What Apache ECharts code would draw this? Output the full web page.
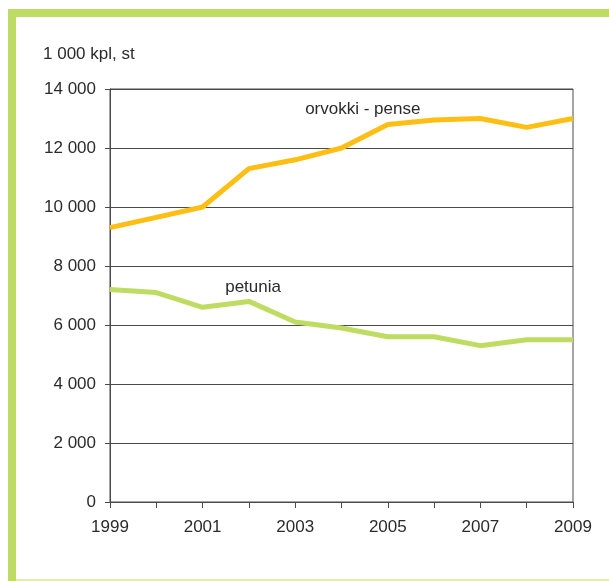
<!DOCTYPE html>
<html>
<head>
<meta charset="utf-8">
<script src="https://cdn.jsdelivr.net/npm/echarts@6/dist/echarts.min.js"></script>
<style>
  html, body { margin: 0; padding: 0; background: #fff; }
  #chart { width: 609px; height: 581px; }
</style>
</head>
<body>
<div id="chart"></div>
<script>
// Annual production, thousand pieces
const years = [1999, 2000, 2001, 2002, 2003, 2004, 2005, 2006, 2007, 2008, 2009];
const orvokki = [9300, 9650, 10000, 11300, 11600, 12000, 12800, 12950, 13000, 12700, 13000];
const petunia = [7200, 7100, 6600, 6800, 6100, 5900, 5600, 5600, 5300, 5500, 5500];
const yTicks = [0, 2000, 4000, 6000, 8000, 10000, 12000, 14000];
const seriesNames = ['orvokki - pense', 'petunia'];
const unitTitle = '1 000 kpl, st';

const FONT = '"Liberation Sans", Arial, sans-serif';
const TEXT = '#2b2b2b';
const GRIDLINE = '#4a4a4a';
const FRAME = '#BEDB64';

function fmtThousands(v) {
  return String(v).replace(/\B(?=(\d{3})+(?!\d))/g, ' ');
}

function pairs(vals) {
  return years.map((y, i) => [y, vals[i]]);
}

const chart = echarts.init(document.getElementById('chart'), null, { renderer: 'canvas' });

chart.setOption({
  animation: false,
  backgroundColor: '#ffffff',
  grid: { left: 110, right: 36, top: 89, bottom: 79, show: true, borderColor: GRIDLINE, borderWidth: 1 },
  xAxis: {
    type: 'value',
    min: years[0],
    max: years[years.length - 1],
    interval: 1,
    axisLine: { show: true, lineStyle: { color: GRIDLINE, width: 1 } },
    axisTick: { show: true, length: 6, lineStyle: { color: GRIDLINE } },
    splitLine: { show: false },
    axisLabel: {
      margin: 17,
      color: TEXT,
      fontFamily: FONT,
      fontSize: 17,
      formatter: v => (v % 2 === 1 ? String(v) : '')
    }
  },
  yAxis: {
    type: 'value',
    min: yTicks[0],
    max: yTicks[yTicks.length - 1],
    interval: 2000,
    axisLine: { show: true, lineStyle: { color: GRIDLINE, width: 1 } },
    axisTick: { show: true, length: 5, lineStyle: { color: GRIDLINE } },
    splitLine: { show: true, lineStyle: { color: GRIDLINE, width: 1 } },
    axisLabel: {
      margin: 14,
      color: TEXT,
      fontFamily: FONT,
      fontSize: 17,
      formatter: v => fmtThousands(v)
    }
  },
  series: [
    {
      name: seriesNames[0],
      type: 'line',
      data: pairs(orvokki),
      symbol: 'none',
      lineStyle: { color: '#FFBE14', width: 5 },
      markPoint: {
        symbol: 'circle',
        symbolSize: 0,
        data: [{ coord: [2004.46, 13320], value: seriesNames[0] }],
        label: { show: true, position: 'inside', formatter: seriesNames[0], color: TEXT, fontFamily: FONT, fontSize: 17 }
      }
    },
    {
      name: seriesNames[1],
      type: 'line',
      data: pairs(petunia),
      symbol: 'none',
      lineStyle: { color: '#BFDC62', width: 5 },
      markPoint: {
        symbol: 'circle',
        symbolSize: 0,
        data: [{ coord: [2002.09, 7270], value: seriesNames[1] }],
        label: { show: true, position: 'inside', formatter: seriesNames[1], color: TEXT, fontFamily: FONT, fontSize: 17 }
      }
    }
  ],
  graphic: [
    // frame: thick top and left bars, thin pale bottom rule
    { type: 'rect', shape: { x: 8, y: 9, width: 601, height: 8 }, style: { fill: FRAME }, silent: true },
    { type: 'rect', shape: { x: 8, y: 9, width: 8, height: 572 }, style: { fill: FRAME }, silent: true },
    { type: 'rect', shape: { x: 16, y: 579, width: 593, height: 2 }, style: { fill: '#E2EFB4' }, silent: true },
    {
      type: 'text', left: 43, top: 46,
      style: { text: unitTitle, fill: TEXT, font: '17px ' + FONT }
    }
  ]
});
</script>
</body>
</html>
